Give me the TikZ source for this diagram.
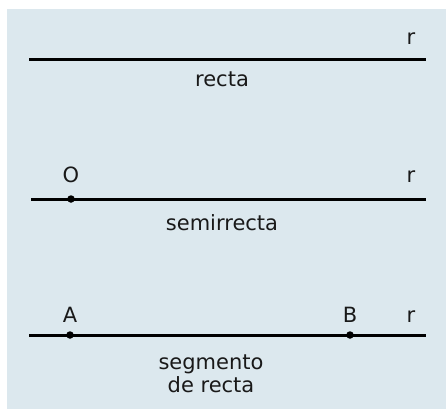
\documentclass[tikz,border=0pt]{standalone}
\usepackage{fontspec}
\setmainfont{DejaVu Sans}
\definecolor{bgblue}{RGB}{220,232,238}
\definecolor{ink}{RGB}{25,25,25}
\begin{document}
\begin{tikzpicture}[x=1pt,y=-1pt,
  lab/.style={inner sep=0pt,anchor=base,text=ink,font=\fontsize{21}{23}\selectfont},
  lin/.style={line width=3pt,black},
  pt/.style={circle,fill=black,inner sep=0pt,minimum size=7.5pt}]
\useasboundingbox (0,0) rectangle (446,409);
\fill[white] (0,0) rectangle (446,409);
\fill[bgblue] (7,9) rectangle (446,409);
% recta
\coordinate (l1a) at (29,60);
\coordinate (l1b) at (426,60);
\draw[lin] (l1a) -- (l1b);
\node[lab] (r1) at (411,45) {r};
\node[lab] (recta) at (222,87) {recta};
% semirrecta
\node[pt] (O) at (71,199) {};
\coordinate (l2b) at (426,199);
\draw[lin] (31,199) -- (l2b);
\node[lab] (Olab) at (71,182) {O};
\node[lab] (r2) at (411,182) {r};
\node[lab] (semi) at (222,230) {semirrecta};
% segmento
\coordinate (l3a) at (29,335);
\coordinate (l3b) at (426,335);
\draw[lin] (l3a) -- (l3b);
\node[pt] (A) at (70,335) {};
\node[pt] (B) at (350,335) {};
\node[lab] (Alab) at (70,322) {A};
\node[lab] (Blab) at (350,322) {B};
\node[lab] (r3) at (411,322) {r};
\node[lab] (seg1) at (211,369) {segmento};
\node[lab] (seg2) at (211,392) {de recta};
\end{tikzpicture}
\end{document}
